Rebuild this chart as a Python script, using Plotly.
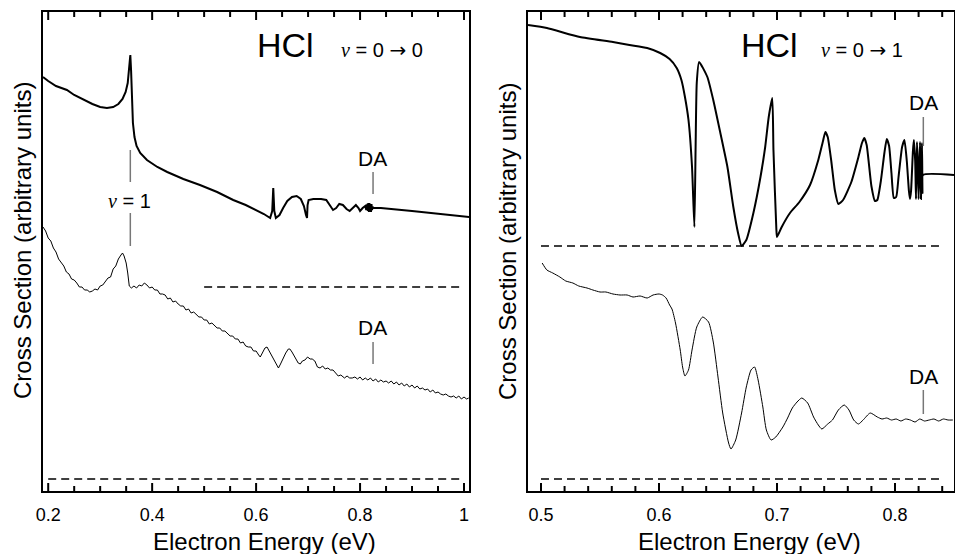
import plotly.graph_objects as go

# ---------------- data ----------------
# v = 0 -> 0 : calculated cross section (upper curve)
th00_e = [0.190, 0.200, 0.215, 0.236, 0.250, 0.268, 0.285, 0.300, 0.313, 0.325,
          0.335, 0.343, 0.349, 0.353, 0.356, 0.358, 0.3595, 0.361, 0.363, 0.366,
          0.370, 0.377, 0.390, 0.410, 0.429, 0.460, 0.492, 0.525, 0.556, 0.580,
          0.600, 0.615, 0.627, 0.631, 0.633, 0.635, 0.638, 0.645, 0.652, 0.660,
          0.669, 0.678, 0.686, 0.692, 0.696, 0.698, 0.699, 0.701, 0.710, 0.725,
          0.735, 0.742, 0.748, 0.754, 0.760, 0.767, 0.774, 0.780, 0.786, 0.792,
          0.797, 0.800, 0.805, 0.810, 0.812, 0.814, 0.815, 0.816, 0.817, 0.818,
          0.819, 0.820, 0.821, 0.822, 0.823, 0.824, 0.826, 0.840, 0.900, 0.950,
          1.010]
th00_y = [414, 410, 405, 401, 396, 391, 387, 384, 383, 384,
          387, 392, 399, 408, 422, 436, 420, 395, 368, 354,
          345, 338, 331, 324, 319, 312, 306, 299, 291, 286,
          281, 277, 273, 280, 303, 280, 273, 276, 283, 290,
          294, 295, 292, 285, 276, 273, 286, 291, 292, 292,
          291, 286, 281, 283, 287, 286, 282, 280, 283, 286,
          283, 280, 283, 285, 281, 287, 280, 288, 279, 288,
          280, 287, 279, 287, 281, 284, 283, 283, 280, 277,
          274]

# v = 0 -> 0 : measured cross section (lower curve)
ex00_e = [0.190, 0.195, 0.200, 0.205, 0.210, 0.215, 0.220, 0.225, 0.230, 0.235,
          0.240, 0.245, 0.250, 0.255, 0.260, 0.265, 0.270, 0.275, 0.280, 0.285,
          0.290, 0.295, 0.300, 0.305, 0.310, 0.315, 0.320, 0.325, 0.330, 0.335,
          0.340, 0.343, 0.346, 0.350, 0.353, 0.356, 0.360, 0.365, 0.370, 0.375,
          0.380, 0.385, 0.390, 0.395, 0.400, 0.405, 0.410, 0.415, 0.420, 0.425,
          0.430, 0.435, 0.440, 0.445, 0.450, 0.455, 0.460, 0.465, 0.470, 0.475,
          0.480, 0.485, 0.490, 0.495, 0.500, 0.505, 0.510, 0.515, 0.520, 0.525,
          0.530, 0.535, 0.540, 0.545, 0.550, 0.555, 0.560, 0.565, 0.570, 0.575,
          0.580, 0.585, 0.590, 0.595, 0.600, 0.605, 0.608, 0.612, 0.617, 0.621,
          0.625, 0.630, 0.635, 0.640, 0.643, 0.647, 0.652, 0.657, 0.662, 0.665,
          0.669, 0.673, 0.677, 0.681, 0.685, 0.689, 0.694, 0.699, 0.704, 0.708,
          0.713, 0.718, 0.723, 0.728, 0.733, 0.738, 0.743, 0.748, 0.753, 0.758,
          0.763, 0.770, 0.775, 0.780, 0.785, 0.790, 0.795, 0.800, 0.805, 0.810,
          0.815, 0.820, 0.825, 0.830, 0.835, 0.840, 0.845, 0.850, 0.855, 0.860,
          0.865, 0.870, 0.875, 0.880, 0.885, 0.890, 0.895, 0.900, 0.905, 0.910,
          0.915, 0.920, 0.925, 0.930, 0.935, 0.940, 0.945, 0.950, 0.955, 0.960,
          0.965, 0.970, 0.975, 0.980, 0.985, 0.990, 0.995, 1.000, 1.005, 1.009]
ex00_y = [264, 260, 253, 250, 243, 239, 232, 228, 225, 219,
          217, 212, 211, 208, 204, 204, 201, 201, 199, 200,
          202, 201, 205, 206, 209, 213, 214, 222, 225, 232,
          236, 238, 235, 228, 218, 205, 203, 205, 203, 206,
          205, 208, 206, 203, 204, 201, 201, 197, 197, 196,
          192, 193, 189, 190, 187, 185, 185, 181, 182, 178,
          179, 176, 174, 174, 171, 171, 167, 168, 165, 163,
          163, 160, 160, 157, 155, 155, 152, 152, 148, 149,
          145, 144, 144, 140, 140, 136, 134, 138, 143, 144,
          140, 136, 130, 125, 123, 127, 133, 138, 142, 142,
          139, 135, 131, 128, 127, 130, 131, 134, 132, 132,
          130, 124, 123, 125, 122, 123, 121, 121, 118, 115,
          116, 113, 115, 113, 113, 114, 112, 114, 111, 113,
          111, 113, 110, 112, 109, 111, 109, 110, 108, 110,
          107, 109, 106, 108, 105, 107, 104, 106, 103, 105,
          102, 103, 101, 102, 99, 101, 98, 99, 97, 96,
          97, 95, 94, 95, 93, 95, 92, 94, 92, 93]

# v = 0 -> 1 : calculated cross section (upper curve)
th01_e = [0.489, 0.505, 0.533, 0.561, 0.575, 0.590, 0.601, 0.609, 0.615, 0.619,
          0.622, 0.625, 0.628, 0.630, 0.631, 0.632, 0.634, 0.641, 0.646, 0.652,
          0.658, 0.663, 0.667, 0.670, 0.674, 0.680, 0.686, 0.690, 0.693, 0.696,
          0.697, 0.6995, 0.700, 0.704, 0.711, 0.719, 0.728, 0.735, 0.739, 0.741,
          0.743, 0.746, 0.749, 0.752, 0.756, 0.763, 0.769, 0.772, 0.774, 0.776,
          0.780, 0.783, 0.785, 0.788, 0.791, 0.793, 0.795, 0.797, 0.799, 0.801,
          0.803, 0.806, 0.808, 0.810, 0.8118, 0.8127, 0.8136, 0.8152, 0.816, 0.8171,
          0.8178, 0.8186, 0.8193, 0.820, 0.8206, 0.8212, 0.8216, 0.822, 0.8225, 0.8229,
          0.8233, 0.8237, 0.850]
th01_y = [466, 463, 454, 449, 446, 443, 438, 432, 423, 411,
          394, 371, 324, 264, 341, 408, 429, 414, 391, 358,
          324, 284, 258, 245, 251, 278, 314, 344, 374, 393,
          341, 261, 254, 264, 278, 289, 306, 331, 350, 359,
          354, 330, 301, 287, 291, 309, 334, 348, 353, 346,
          305, 290, 291, 310, 338, 352, 345, 318, 293, 294,
          314, 344, 351, 330, 300, 292, 300, 340, 351, 330,
          292, 349, 330, 292, 320, 349, 330, 292, 320, 348,
          298, 316, 316]

# v = 0 -> 1 : measured cross section (lower curve)
ex01_e = [0.501, 0.505, 0.510, 0.516, 0.521, 0.527, 0.532, 0.539, 0.544, 0.550,
          0.555, 0.561, 0.567, 0.573, 0.578, 0.584, 0.590, 0.595, 0.600, 0.603,
          0.606, 0.609, 0.611, 0.614, 0.618, 0.620, 0.622, 0.625, 0.628, 0.632,
          0.637, 0.642, 0.646, 0.650, 0.654, 0.659, 0.661, 0.665, 0.670, 0.674,
          0.678, 0.681, 0.684, 0.688, 0.691, 0.695, 0.699, 0.705, 0.709, 0.713,
          0.717, 0.721, 0.726, 0.731, 0.735, 0.738, 0.743, 0.747, 0.752, 0.757,
          0.761, 0.765, 0.769, 0.773, 0.779, 0.785, 0.789, 0.793, 0.797, 0.801,
          0.805, 0.809, 0.813, 0.817, 0.821, 0.825, 0.829, 0.833, 0.837, 0.841,
          0.845, 0.849]
ex01_y = [228, 221, 218, 214, 210, 208, 205, 203, 201, 199,
          199, 197, 196, 196, 194, 195, 193, 196, 197, 196,
          193, 186, 182, 168, 141, 124, 115, 121, 141, 164,
          174, 169, 149, 114, 78, 48, 42, 51, 78, 104,
          121, 124, 111, 84, 61, 51, 54, 64, 73, 83,
          89, 93, 88, 74, 66, 62, 67, 71, 81, 86,
          81, 71, 67, 71, 78, 74, 72, 73, 71, 72,
          70, 72, 71, 69, 72, 70, 71, 72, 70, 72,
          71, 71]

# zero-level reference lines (energy start, energy end, level)
base00_hi = [0.50, 1.00, 204]
base00_lo = [0.20, 1.00, 12]
base01_hi = [0.50, 0.84, 245]
base01_lo = [0.50, 0.84, 12]

# marker positions: (energy, y bottom, y top)
nu1_marks = [(0.358, 309, 341), (0.358, 245, 278)]
da00_marks = [(0.825, 297, 319), (0.825, 127, 149)]
da01_marks = [(0.824, 345, 374), (0.824, 77, 101)]

# tick positions on the energy axes
major00 = [0.2, 0.4, 0.6, 0.8, 1.0]
minor00 = [0.25, 0.3, 0.35, 0.45, 0.5, 0.55, 0.65, 0.7, 0.75, 0.85, 0.9, 0.95]
major01 = [0.5, 0.6, 0.7, 0.8]
minor01 = [0.52, 0.54, 0.56, 0.58, 0.62, 0.64, 0.66, 0.68, 0.72, 0.74, 0.76,
           0.78, 0.82, 0.84]

# ---------------- figure ----------------
W, H = 955, 554
PLOT_TOP, PLOT_BOTTOM = 12, 491
PLOT_H = PLOT_BOTTOM - PLOT_TOP
SANS = "Liberation Sans, Arial, Helvetica, sans-serif"


def paper(xp, yp):
    return xp / W, 1 - yp / H


fig = go.Figure()

theory_line = dict(color="black", width=2)
expt_line = dict(color="black", width=1)
dash_line = dict(color="black", width=1.5, dash="8px,5px")

fig.add_trace(go.Scatter(x=th00_e, y=th00_y, mode="lines", line=theory_line,
                         xaxis="x", yaxis="y"))
fig.add_trace(go.Scatter(x=ex00_e, y=ex00_y, mode="lines", line=expt_line,
                         xaxis="x", yaxis="y"))
fig.add_trace(go.Scatter(x=th01_e, y=th01_y, mode="lines",
                         line=dict(theory_line, shape="spline", smoothing=0.5),
                         xaxis="x2", yaxis="y2"))
fig.add_trace(go.Scatter(x=ex01_e, y=ex01_y, mode="lines",
                         line=dict(expt_line, shape="spline", smoothing=0.6),
                         xaxis="x2", yaxis="y2"))

for base, xa, ya in [(base00_hi, "x", "y"), (base00_lo, "x", "y"),
                     (base01_hi, "x2", "y2"), (base01_lo, "x2", "y2")]:
    fig.add_trace(go.Scatter(x=[base[0], base[1]], y=[base[2], base[2]],
                             mode="lines", line=dash_line, xaxis=xa, yaxis=ya))

shapes = []
for marks, xa, ya in [(nu1_marks, "x", "y"), (da00_marks, "x", "y"),
                      (da01_marks, "x2", "y2")]:
    for e, y0, y1 in marks:
        shapes.append(dict(type="line", xref=xa, yref=ya, x0=e, x1=e, y0=y0, y1=y1,
                           line=dict(color="#777777", width=1.5)))

# inward tick marks along the bottom and top frame of each panel
for ticks_list, length, xa, ya in [(major00, 8, "x", "y"), (minor00, 5, "x", "y"),
                                   (major01, 8, "x2", "y2"), (minor01, 5, "x2", "y2")]:
    frac = length / PLOT_H
    for e in ticks_list:
        for y0, y1 in [(0, frac), (1, 1 - frac)]:
            shapes.append(dict(type="line", xref=xa, yref=ya + " domain",
                               x0=e, x1=e, y0=y0, y1=y1,
                               line=dict(color="black", width=2)))


def energy_axis(domain, rng, tick0, dtick, anchor):
    return dict(domain=domain, range=rng, anchor=anchor,
                showline=True, linecolor="black", linewidth=2, mirror=True,
                showgrid=False, zeroline=False, automargin=False,
                tick0=tick0, dtick=dtick, ticks="",
                tickfont=dict(family=SANS, size=18, color="black"),
                ticklabelstandoff=6)


def signal_axis(anchor):
    return dict(domain=[1 - PLOT_BOTTOM / H, 1 - PLOT_TOP / H], range=[0, 479],
                anchor=anchor, showline=True, linecolor="black", linewidth=2,
                mirror=True, showgrid=False, zeroline=False, automargin=False,
                showticklabels=False, ticks="")


fig.update_layout(
    width=W, height=H,
    margin=dict(l=0, r=0, t=0, b=0, autoexpand=False),
    plot_bgcolor="white", paper_bgcolor="white",
    showlegend=False,
    xaxis=energy_axis([43 / W, 469 / W], [0.19, 1.0096], 0.2, 0.2, "y"),
    yaxis=signal_axis("x"),
    xaxis2=energy_axis([528 / W, 954 / W], [0.489, 0.850], 0.5, 0.1, "y2"),
    yaxis2=signal_axis("x2"),
    shapes=shapes,
)

annotations = []


def label(text, xp, yp, size, angle=0):
    x, y = paper(xp, yp)
    annotations.append(dict(text=text, x=x, y=y, xref="paper", yref="paper",
                            xanchor="center", yanchor="middle", showarrow=False,
                            textangle=angle,
                            font=dict(family=SANS, size=size, color="black")))


nu = '<span style="font-family:Liberation Serif, Times New Roman, serif"><i>v</i></span>'
arrow = '<span style="font-family:DejaVu Sans">\u2192</span>'

label("HCl", 285, 45, 34)
label(nu + " = 0 " + arrow + " 0", 382, 50, 20)
label("HCl", 769, 45, 34)
label(nu + " = 0 " + arrow + " 1", 862, 50, 20)
label(nu + " = 1", 129, 201, 20)
label("DA", 372, 158, 21)
label("DA", 372, 327, 21)
label("DA", 923, 103, 21)
label("DA", 923, 376, 21)
label("Cross Section (arbitrary units)", 23, 241, 24, angle=-90)
label("Cross Section (arbitrary units)", 508, 241, 24, angle=-90)
label("Electron Energy (eV)", 264, 541, 24)
label("Electron Energy (eV)", 749, 541, 24)

fig.update_layout(annotations=annotations)

fig.write_html("out.html")
